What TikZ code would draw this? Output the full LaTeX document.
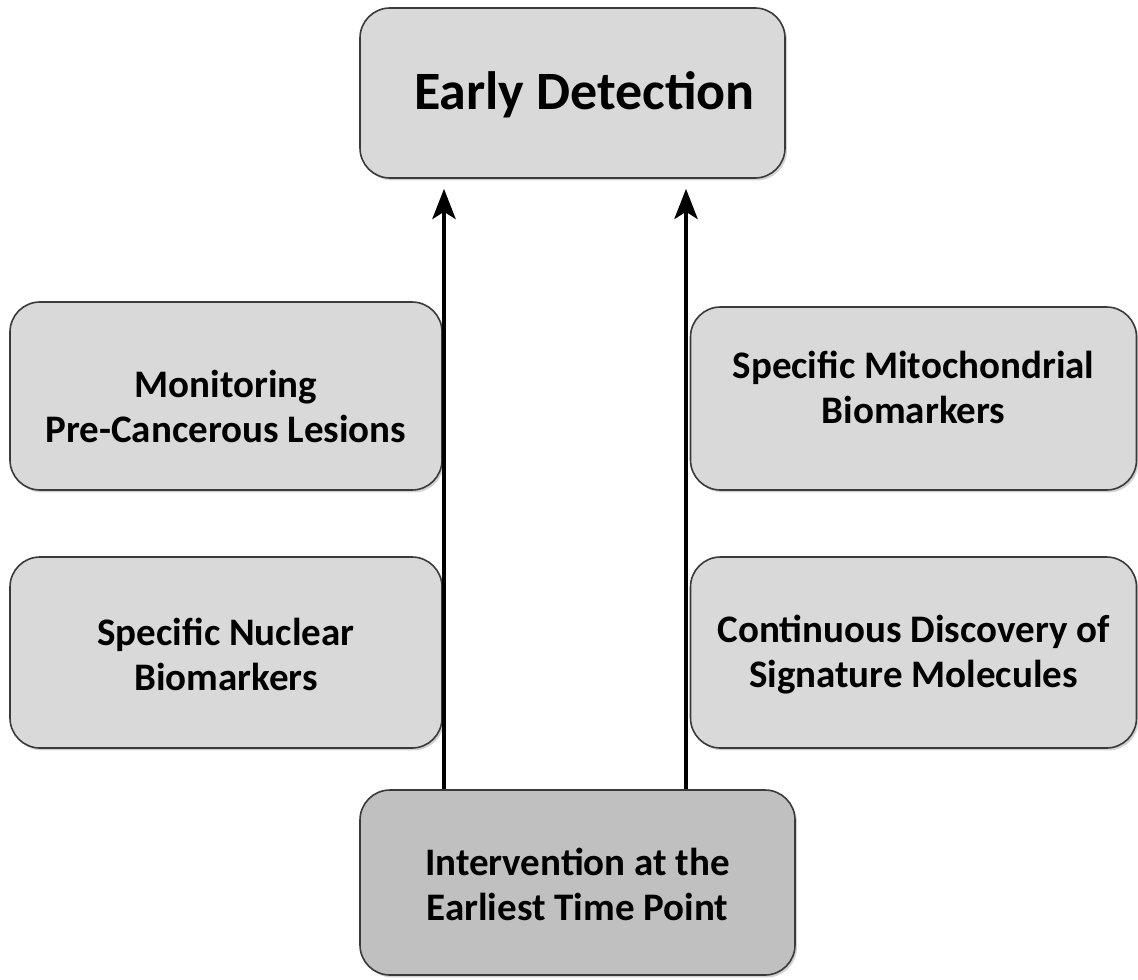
\documentclass[tikz,border=0pt]{standalone}
\usepackage{fontspec}
\setmainfont{Carlito}
\usetikzlibrary{arrows.meta,shadows,calc}
\definecolor{boxfill}{HTML}{D9D9D9}
\definecolor{boxdark}{HTML}{C0C0C0}
\definecolor{boxline}{HTML}{3A3A3A}
\tikzset{
  box/.style={draw=boxline, line width=0.8pt, fill=boxfill, rounded corners=15pt,
    inner sep=0pt, drop shadow={shadow xshift=1pt, shadow yshift=-1.2pt, opacity=0.35}},
  lbl/.style={font=\bfseries\fontsize{19.5}{22.5}\selectfont, align=center, inner sep=0pt, text=black},
  bigl/.style={font=\bfseries\fontsize{27}{32}\selectfont, inner sep=0pt, text=black},
  arr/.style={line width=2.4pt, -{Stealth[length=15pt,width=11.5pt,inset=3.5pt]}, shorten >=5pt}
}
\begin{document}
\begin{tikzpicture}[x=0.5pt,y=-0.5pt]
\useasboundingbox (0,0) rectangle (1138,979);
% boxes
\node[box, minimum width=212.5pt, minimum height=85pt] (ed) at (572.5,93) {};
\node[box, minimum width=216pt, minimum height=94pt] (mon) at (226,396) {};
\node[box, minimum width=216pt, minimum height=95.5pt] (nuc) at (226,652.5) {};
\node[box, minimum width=223pt, minimum height=91.5pt] (mito) at (913.5,398.5) {};
\node[box, minimum width=223pt, minimum height=95.5pt] (cont) at (913.5,652.5) {};
\node[box, fill=boxdark, minimum width=217.5pt, minimum height=92.5pt] (int) at (577.5,882.5) {};
% texts
\node[bigl] (edt) at ($(ed.center)+(12,2)$) {Early Detection};
\node[lbl] (mont) at ($(mon.center)+(0,10)$) {Monitoring\\Pre-Cancerous Lesions};
\node[lbl] (nuct) at ($(nuc.center)+(0,2)$) {Specific Nuclear\\Biomarkers};
\node[lbl] (mitot) at ($(mito.center)+(0,-11)$) {Specific Mitochondrial\\Biomarkers};
\node[lbl] (contt) at ($(cont.center)+(0,2)$) {Continuous Discovery of\\Signature Molecules};
\node[lbl] (intt) at ($(int.center)+(0,2)$) {Intervention at the\\Earliest Time Point};
% arrows
\coordinate (la) at (444,0);
\coordinate (ra) at (686,0);
\draw[arr] (int.north -| la) -- (ed.south -| la);
\draw[arr] (int.north -| ra) -- (ed.south -| ra);
\end{tikzpicture}
\end{document}
